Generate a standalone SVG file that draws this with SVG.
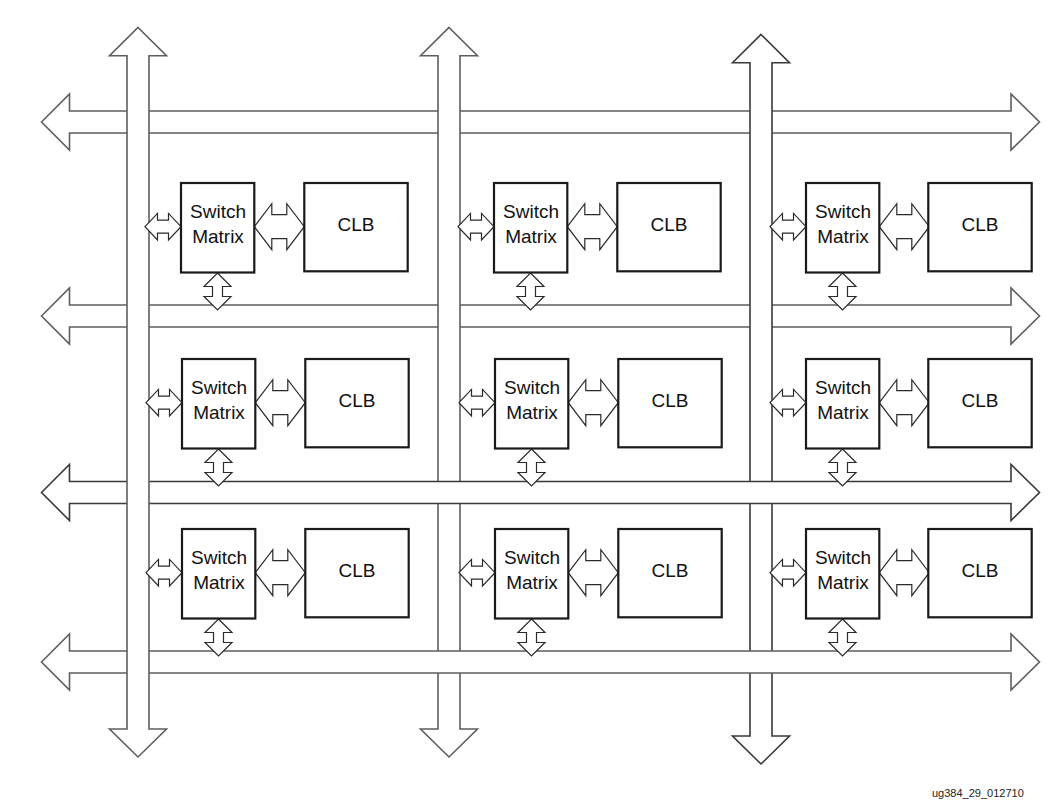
<svg xmlns="http://www.w3.org/2000/svg" xmlns:xlink="http://www.w3.org/1999/xlink" width="1059" height="809" viewBox="0 0 1059 809">
  <style>
    .bus { fill: #ffffff; stroke: #5e5e5e; stroke-width: 1.6; stroke-linejoin: miter; }
    .bus.dark { stroke: #3a3a3a; }
    .link { fill: #ffffff; stroke: #2a2a2a; stroke-width: 1.2; stroke-linejoin: miter; }
    .box { fill: #ffffff; stroke: #1a1a1a; stroke-width: 2.2; }
    .lbl { font-family: "Liberation Sans", Arial, Helvetica, sans-serif; font-size: 19px; fill: #111111; text-anchor: middle; }
    .tag { font-family: "Liberation Sans", Arial, Helvetica, sans-serif; font-size: 11px; fill: #222222; }
  </style>
  <defs>
    <!-- horizontal routing channel, centred on y=0 -->
    <path id="hbus" d="M41.5,0 L69.5,-28 L69.5,-11 L1011,-11 L1011,-28 L1039.5,0 L1011,28 L1011,11 L69.5,11 L69.5,28 Z"/>
    <!-- short bidirectional link between channel and switch matrix -->
    <path id="hlink" d="M0,0 L12.5,-13.3 L12.5,-6.5 L23.5,-6.5 L23.5,-13.3 L36,0 L23.5,13.3 L23.5,6.5 L12.5,6.5 L12.5,13.3 Z"/>
    <!-- wide bidirectional link between switch matrix and CLB -->
    <path id="wlink" d="M0,0 L17.5,-23 L17.5,-12 L32.5,-12 L32.5,-23 L50,0 L32.5,23 L32.5,12 L17.5,12 L17.5,23 Z"/>
    <!-- vertical link from switch matrix down to channel -->
    <path id="vlink" d="M0,0 L13.5,13.5 L5,13.5 L5,23.5 L13.5,23.5 L0,37 L-13.5,23.5 L-5,23.5 L-5,13.5 L-13.5,13.5 Z"/>
  </defs>

  <g id="connectors">
    <!-- horizontal channels passing beneath every vertical channel -->
    <use xlink:href="#hbus" class="bus" transform="translate(0,122)"/>
    <use xlink:href="#hbus" class="bus" transform="translate(0,316)"/>

    <!-- vertical channels, middle and right -->
    <path class="bus" d="M449,27.5 L477.5,55.7 L460,55.7 L460,729 L477.5,729 L449,757 L420.5,729 L438,729 L438,55.7 L420.5,55.7 Z"/>
    <path class="bus dark" d="M761,34.5 L789.5,62.7 L772,62.7 L772,736 L789.5,736 L761,764 L732.5,736 L750,736 L750,62.7 L732.5,62.7 Z"/>

    <!-- lower horizontal channels, over the middle and right verticals -->
    <use xlink:href="#hbus" class="bus dark" transform="translate(0,492.5)"/>
    <use xlink:href="#hbus" class="bus" transform="translate(0,662)"/>

    <!-- left vertical channel, on top -->
    <path class="bus" d="M138,27.5 L166.5,55.7 L149,55.7 L149,729 L166.5,729 L138,757 L109.5,729 L127,729 L127,55.7 L109.5,55.7 Z"/>

    <!-- row 1 links -->
    <use xlink:href="#hlink" class="link" transform="translate(145,226.7)"/>
    <use xlink:href="#wlink" class="link" transform="translate(254.3,226.7)"/>
    <use xlink:href="#vlink" class="link" transform="translate(217.5,273)"/>
    <use xlink:href="#hlink" class="link" transform="translate(458,226.7)"/>
    <use xlink:href="#wlink" class="link" transform="translate(567.3,226.7)"/>
    <use xlink:href="#vlink" class="link" transform="translate(530.5,273)"/>
    <use xlink:href="#hlink" class="link" transform="translate(770,226.7)"/>
    <use xlink:href="#wlink" class="link" transform="translate(879.3,226.7)"/>
    <use xlink:href="#vlink" class="link" transform="translate(842.5,273)"/>

    <!-- row 2 links -->
    <use xlink:href="#hlink" class="link" transform="translate(146,402.7)"/>
    <use xlink:href="#wlink" class="link" transform="translate(255.3,402.7)"/>
    <use xlink:href="#vlink" class="link" transform="translate(218.5,449)"/>
    <use xlink:href="#hlink" class="link" transform="translate(459,402.7)"/>
    <use xlink:href="#wlink" class="link" transform="translate(568.3,402.7)"/>
    <use xlink:href="#vlink" class="link" transform="translate(531.5,449)"/>
    <use xlink:href="#hlink" class="link" transform="translate(770,402.7)"/>
    <use xlink:href="#wlink" class="link" transform="translate(879.3,402.7)"/>
    <use xlink:href="#vlink" class="link" transform="translate(842.5,449)"/>

    <!-- row 3 links -->
    <use xlink:href="#hlink" class="link" transform="translate(146,572.7)"/>
    <use xlink:href="#wlink" class="link" transform="translate(255.3,572.7)"/>
    <use xlink:href="#vlink" class="link" transform="translate(218.5,619)"/>
    <use xlink:href="#hlink" class="link" transform="translate(459,572.7)"/>
    <use xlink:href="#wlink" class="link" transform="translate(568.3,572.7)"/>
    <use xlink:href="#vlink" class="link" transform="translate(531.5,619)"/>
    <use xlink:href="#hlink" class="link" transform="translate(770,572.7)"/>
    <use xlink:href="#wlink" class="link" transform="translate(879.3,572.7)"/>
    <use xlink:href="#vlink" class="link" transform="translate(842.5,619)"/>
  </g>

  <!-- row 1 -->
  <g id="sm-r1c1"><rect class="box" x="181" y="183" width="73.3" height="89.5"/><text class="lbl" x="218" y="218.3">Switch</text><text class="lbl" x="218" y="242.7">Matrix</text></g>
  <g id="clb-r1c1"><rect class="box" x="304.3" y="183" width="103.4" height="88.3"/><text class="lbl" x="356" y="231">CLB</text></g>
  <g id="sm-r1c2"><rect class="box" x="494" y="183" width="73.3" height="89.5"/><text class="lbl" x="531" y="218.3">Switch</text><text class="lbl" x="531" y="242.7">Matrix</text></g>
  <g id="clb-r1c2"><rect class="box" x="617.3" y="183" width="103.4" height="88.3"/><text class="lbl" x="669" y="231">CLB</text></g>
  <g id="sm-r1c3"><rect class="box" x="806" y="183" width="73.3" height="89.5"/><text class="lbl" x="843" y="218.3">Switch</text><text class="lbl" x="843" y="242.7">Matrix</text></g>
  <g id="clb-r1c3"><rect class="box" x="928.3" y="183" width="103.4" height="88.3"/><text class="lbl" x="980" y="231">CLB</text></g>

  <!-- row 2 -->
  <g id="sm-r2c1"><rect class="box" x="182" y="359" width="73.3" height="89.5"/><text class="lbl" x="219" y="394.3">Switch</text><text class="lbl" x="219" y="418.7">Matrix</text></g>
  <g id="clb-r2c1"><rect class="box" x="305.3" y="359" width="103.4" height="88.3"/><text class="lbl" x="357" y="407">CLB</text></g>
  <g id="sm-r2c2"><rect class="box" x="495" y="359" width="73.3" height="89.5"/><text class="lbl" x="532" y="394.3">Switch</text><text class="lbl" x="532" y="418.7">Matrix</text></g>
  <g id="clb-r2c2"><rect class="box" x="618.3" y="359" width="103.4" height="88.3"/><text class="lbl" x="670" y="407">CLB</text></g>
  <g id="sm-r2c3"><rect class="box" x="806" y="359" width="73.3" height="89.5"/><text class="lbl" x="843" y="394.3">Switch</text><text class="lbl" x="843" y="418.7">Matrix</text></g>
  <g id="clb-r2c3"><rect class="box" x="928.3" y="359" width="103.4" height="88.3"/><text class="lbl" x="980" y="407">CLB</text></g>

  <!-- row 3 -->
  <g id="sm-r3c1"><rect class="box" x="182" y="529" width="73.3" height="89.5"/><text class="lbl" x="219" y="564.3">Switch</text><text class="lbl" x="219" y="588.7">Matrix</text></g>
  <g id="clb-r3c1"><rect class="box" x="305.3" y="529" width="103.4" height="88.3"/><text class="lbl" x="357" y="577">CLB</text></g>
  <g id="sm-r3c2"><rect class="box" x="495" y="529" width="73.3" height="89.5"/><text class="lbl" x="532" y="564.3">Switch</text><text class="lbl" x="532" y="588.7">Matrix</text></g>
  <g id="clb-r3c2"><rect class="box" x="618.3" y="529" width="103.4" height="88.3"/><text class="lbl" x="670" y="577">CLB</text></g>
  <g id="sm-r3c3"><rect class="box" x="806" y="529" width="73.3" height="89.5"/><text class="lbl" x="843" y="564.3">Switch</text><text class="lbl" x="843" y="588.7">Matrix</text></g>
  <g id="clb-r3c3"><rect class="box" x="928.3" y="529" width="103.4" height="88.3"/><text class="lbl" x="980" y="577">CLB</text></g>

  <text id="figure-tag" class="tag" x="932" y="797">ug384_29_012710</text>
</svg>
